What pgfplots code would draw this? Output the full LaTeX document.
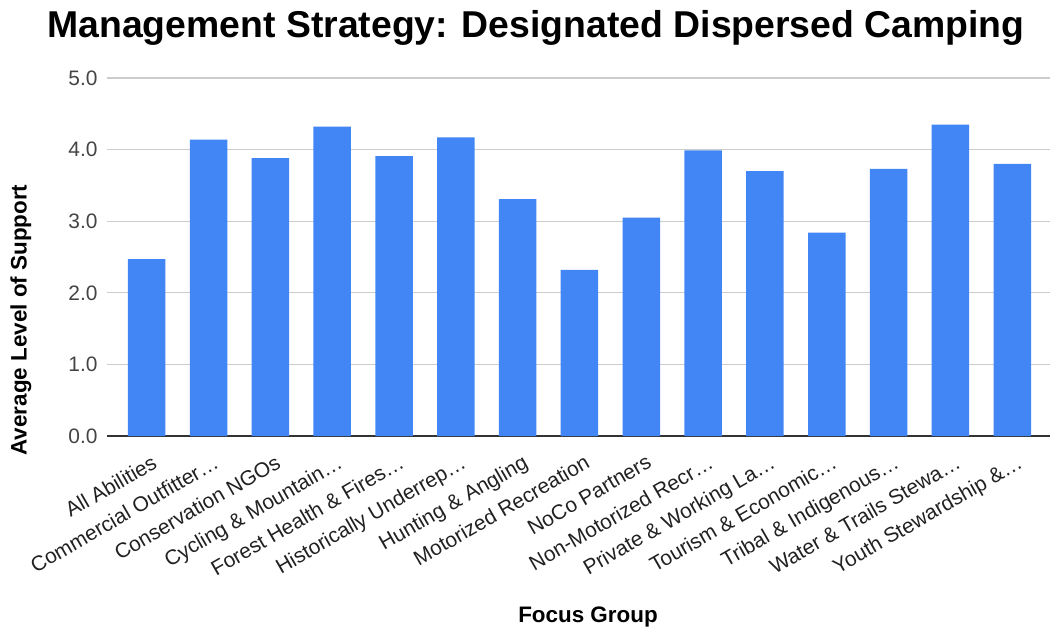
\documentclass[border=0pt]{standalone}
\usepackage{fontspec}
\setmainfont{Liberation Sans}
\usepackage{pgfplots}
\pgfplotsset{compat=1.18}
\definecolor{barblue}{HTML}{4285F4}
\definecolor{gridgray}{HTML}{CCCCCC}
\definecolor{ticktext}{HTML}{444444}
\definecolor{axisdark}{HTML}{333333}
\begin{document}
\begin{tikzpicture}
\path[use as bounding box] (-107bp,-194bp) rectangle (945bp,436bp);
\begin{axis}[
  at={(0,0)}, anchor=south west,
  scale only axis, width=943bp, height=358bp,
  xmin=-0.642, xmax=14.61, ymin=0, ymax=5,
  ybar, bar width=37.5bp,
  axis line style={draw=none},
  ytick={0,1,2,3,4,5},
  /pgf/number format/assume math mode=true,
  y tick label style={/pgf/number format/.cd, fixed, fixed zerofill, precision=1, /tikz/.cd,
    font=\fontsize{21}{25}\selectfont, text=ticktext, xshift=-6bp},
  ymajorgrids, grid style={gridgray, line width=1.3bp},
  major tick length=0pt,
  xtick={0,...,14},
  xticklabels={All Abilities, Commercial Outfitter…, Conservation NGOs, Cycling \& Mountain…, Forest Health \& Fires…, Historically Underrep…, Hunting \& Angling, Motorized Recreation, NoCo Partners, Non-Motorized Recr…, Private \& Working La…, Tourism \& Economic…, Tribal \& Indigenous…, Water \& Trails Stewa…, Youth Stewardship \&…},
  x tick label style={rotate=30, anchor=north east, font=\fontsize{21}{25}\selectfont, text=black!87, xshift=-2bp, yshift=-14bp},
  extra y ticks={0}, extra y tick labels={},
  extra y tick style={grid style={axisdark, line width=1.5bp}},
]
\addplot[fill=barblue, draw=none] coordinates {
(0,2.47) (1,4.14) (2,3.88) (3,4.32) (4,3.91) (5,4.17) (6,3.31) (7,2.32)
(8,3.05) (9,3.99) (10,3.70) (11,2.84) (12,3.73) (13,4.35) (14,3.80)};
\end{axis}
\node[font=\bfseries\fontsize{37.5}{44}\selectfont, anchor=base] at (429bp,398bp) {Management Strategy: Designated Dispersed Camping};
\node[font=\bfseries\fontsize{22.5}{27}\selectfont, rotate=90, anchor=center] at (-86bp,116bp) {Average Level of Support};
\node[font=\bfseries\fontsize{22.5}{27}\selectfont, anchor=base] at (481bp,-186bp) {Focus Group};
\end{tikzpicture}
\end{document}
